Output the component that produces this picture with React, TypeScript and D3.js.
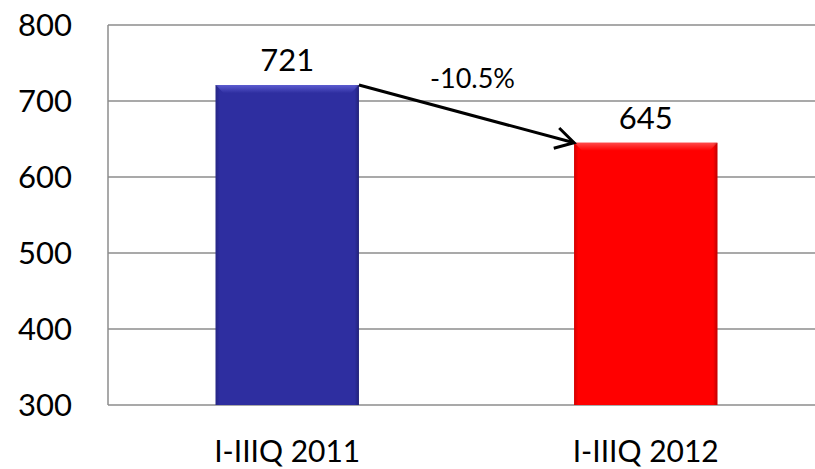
import React from "react";
import * as d3 from "d3";

const categories = ["I-IIIQ 2011", "I-IIIQ 2012"];
const values = [721, 645];
const barColors = ["#2E2EA0", "#FF0000"];
const barLightColors = ["#5C5CD0", "#FF4A4A"];
const yTicks = [300, 400, 500, 600, 700, 800];
const changeLabel = "-10.5%";

const W = 815;
const H = 469;
const FONT = "Lato, 'Open Sans', sans-serif";

export default function App() {
  const y = d3.scaleLinear().domain([300, 800]).range([405, 25]);
  const x = d3
    .scaleBand<string>()
    .domain(categories)
    .range([108, 825])
    .paddingInner(0.6)
    .paddingOuter(0.3);
  const bw = x.bandwidth();

  // arrow from top-right of bar 1 to top-left of bar 2
  const x1 = (x(categories[0]) as number) + bw;
  const y1 = y(values[0]);
  const x2 = x(categories[1]) as number;
  const y2 = y(values[1]);
  const ang = Math.atan2(y2 - y1, x2 - x1);
  const headLen = 21;
  const headAng = (30 * Math.PI) / 180;
  const hx1 = x2 - headLen * Math.cos(ang - headAng);
  const hy1 = y2 - headLen * Math.sin(ang - headAng);
  const hx2 = x2 - headLen * Math.cos(ang + headAng);
  const hy2 = y2 - headLen * Math.sin(ang + headAng);
  const midX = (x1 + x2) / 2;
  const midY = (y1 + y2) / 2;

  const bevel = 8;

  return (
    <svg
      width={W}
      height={H}
      style={{ position: "absolute", left: 0, top: 0, background: "#fff" }}
      fontFamily={FONT}
    >
      <defs>
        {values.map((_, i) => (
          <linearGradient key={i} id={`side${i}`} x1="0" x2="1" y1="0" y2="0">
            <stop offset="0" stopColor="#000" stopOpacity={0.18} />
            <stop offset="0.03" stopColor="#000" stopOpacity={0} />
            <stop offset="0.97" stopColor="#000" stopOpacity={0} />
            <stop offset="1" stopColor="#000" stopOpacity={0.25} />
          </linearGradient>
        ))}
        {values.map((_, i) => (
          <linearGradient key={`t${i}`} id={`top${i}`} x1="0" x2="0" y1="0" y2="1">
            <stop offset="0" stopColor={barLightColors[i]} />
            <stop offset="1" stopColor={barColors[i]} />
          </linearGradient>
        ))}
      </defs>
      {/* gridlines */}
      {yTicks.map((t) => (
        <line
          key={t}
          x1={108}
          x2={W}
          y1={y(t)}
          y2={y(t)}
          stroke="#8C8C8C"
          strokeWidth={1.5}
        />
      ))}
      <line x1={108} x2={108} y1={y(800)} y2={y(300)} stroke="#8C8C8C" strokeWidth={1.5} />
      {/* y tick labels */}
      {yTicks.map((t) => (
        <text
          key={t}
          x={72}
          y={y(t)}
          dy="0.36em"
          textAnchor="end"
          fontSize={31}
          fill="#000"
        >
          {t}
        </text>
      ))}
      {/* bars */}
      {categories.map((c, i) => {
        const bx = x(c) as number;
        const by = y(values[i]);
        const bh = y(300) - by;
        return (
          <g key={c}>
            <rect x={bx} y={by} width={bw} height={bh} fill={barColors[i]} />
            <polygon
              points={`${bx},${by} ${bx + bw},${by} ${bx + bw - bevel},${by + bevel} ${bx + bevel},${by + bevel}`}
              fill={`url(#top${i})`}
            />
            <rect x={bx} y={by} width={bw} height={bh} fill={`url(#side${i})`} />
            <text
              x={bx + bw / 2}
              y={by - 14}
              textAnchor="middle"
              fontSize={31}
              fill="#000"
            >
              {values[i]}
            </text>
            <text
              x={bx + bw / 2}
              y={462}
              textAnchor="middle"
              fontSize={30}
              fill="#000"
            >
              {c}
            </text>
          </g>
        );
      })}
      {/* change arrow */}
      <line x1={x1} y1={y1} x2={x2} y2={y2} stroke="#000" strokeWidth={3} />
      <polyline
        points={`${hx1},${hy1} ${x2},${y2} ${hx2},${hy2}`}
        fill="none"
        stroke="#000"
        strokeWidth={3}
      />
      <text x={midX + 6} y={midY - 26} textAnchor="middle" fontSize={27} fill="#000">
        {changeLabel}
      </text>
    </svg>
  );
}
